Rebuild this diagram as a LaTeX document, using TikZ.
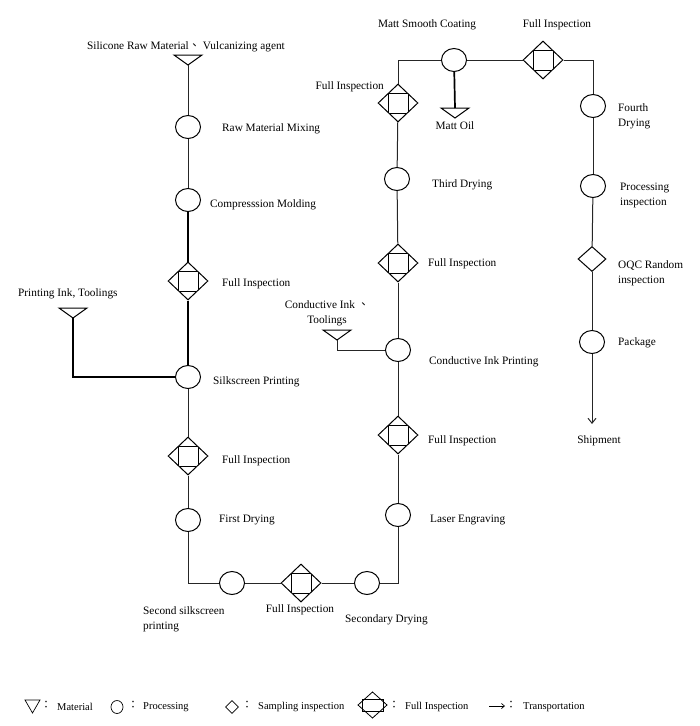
\documentclass[tikz,border=0pt]{standalone}
\usepackage{fontspec}
\setmainfont{Liberation Serif}
\newfontfamily\cjk{Noto Sans CJK TC}
\usetikzlibrary{shapes.geometric,arrows.meta}
\tikzset{
  x=1pt, y=-1pt,
  flow/.style={line width=1pt, draw=black!85},
  heavy/.style={line width=1.7pt, draw=black},
  proc/.style={ellipse, draw, line width=1pt, minimum width=25pt, minimum height=23pt, inner sep=0pt},
  fullinsp/.style={diamond, draw, line width=1pt, minimum width=40pt, minimum height=38pt, inner sep=0pt,
     path picture={\draw[line width=1pt] ([shift={(-10pt,-10pt)}]path picture bounding box.center) rectangle ([shift={(10pt,10pt)}]path picture bounding box.center);}},
  sampinsp/.style={diamond, draw, line width=1pt, minimum width=28pt, minimum height=25pt, inner sep=0pt},
  lbl/.style={font=\fontsize{11.3}{15}\selectfont, inner sep=0pt, yshift=-1.5pt},
  leg/.style={font=\fontsize{10.5}{12}\selectfont, inner sep=0pt},
}
\newcommand\mattri[1]{\draw[line width=1pt] (#1) -- ++(-14,-10) -- ++(28,0) -- cycle;}
\begin{document}
\begin{tikzpicture}
\useasboundingbox (0,0) rectangle (700,726);

% ---- left column
\coordinate (m1) at (188,65);
\mattri{m1}
\node[proc] (mix) at (188,127) {};
\node[proc] (mold) at (188,200) {};
\node[fullinsp] (fi1) at (188,281) {};
\node[proc] (silk) at (188,377) {};
\node[fullinsp] (fi2) at (188,456) {};
\node[proc] (dry1) at (188,520) {};
\coordinate (c1) at (188,583);
\coordinate (m2) at (73,318);
\mattri{m2}

% ---- bottom row
\node[proc] (silk2) at (232,583) {};
\node[fullinsp] (fi3) at (301,583) {};
\node[proc] (dry2) at (367,583) {};
\coordinate (c2) at (398,583);

% ---- middle column
\node[proc] (laser) at (398,515) {};
\node[fullinsp] (fi4) at (398,435) {};
\node[proc] (cond) at (398,350) {};
\coordinate (m3) at (337,340);
\mattri{m3}
\node[fullinsp] (fi5) at (398,263) {};
\node[proc] (dry3) at (397,179) {};
\node[fullinsp] (fi6) at (398,103) {};
\coordinate (c3) at (398,60);

% ---- top row
\node[proc] (matt) at (454,60) {};
\coordinate (m4top) at (455,108);
\coordinate (m4) at (455,118);
\mattri{m4}
\node[fullinsp] (fi7) at (543,60) {};
\coordinate (c4) at (593,60);

% ---- right column
\node[proc] (dry4) at (593,106) {};
\node[proc] (pinsp) at (593,186) {};
\node[sampinsp] (oqc) at (592,259) {};
\node[proc] (pkg) at (592,342) {};
\coordinate (ship) at (592,424);

% ---- connectors
\draw[flow] (m1) -- (mix);
\draw[flow] (mix) -- (mold);
\draw[heavy] (mold) -- (fi1);
\draw[heavy] (fi1) -- (silk);
\draw[heavy] (m2) |- (silk);
\draw[flow] (silk) -- (fi2);
\draw[flow] (fi2) -- (dry1);
\draw[flow] (dry1) -- (c1) -- (silk2);
\draw[flow] (silk2) -- (fi3);
\draw[flow] (fi3) -- (dry2);
\draw[flow] (dry2) -- (c2) -- (laser);
\draw[flow] (laser) -- (fi4);
\draw[flow] (fi4) -- (cond);
\draw[flow] (m3) |- (cond);
\draw[flow] (cond) -- (fi5);
\draw[flow] (fi5) -- (dry3);
\draw[flow] (dry3) -- (fi6);
\draw[flow] (fi6) -- (c3) -- (matt);
\draw[heavy] (matt) -- (m4top);
\draw[flow] (matt) -- (fi7);
\draw[flow] (fi7) -- (c4) -- (dry4);
\draw[flow] (dry4) -- (pinsp);
\draw[flow] (pinsp) -- (oqc);
\draw[flow] (oqc) -- (pkg);
\draw[flow, -{Straight Barb[length=5pt,width=8pt]}] (pkg) -- (ship);

% ---- labels
\node[lbl] (t1) at (186,45) {Silicone Raw Material{\cjk 、} Vulcanizing agent};
\node[lbl, anchor=west] (t2) at (222,127) {Raw Material Mixing};
\node[lbl, anchor=west] (t3) at (210,203) {Compresssion Molding};
\node[lbl, anchor=west] (t4) at (222,282) {Full Inspection};
\node[lbl, anchor=west] (t5) at (18,292) {Printing Ink, Toolings};
\node[lbl, anchor=west] (t6) at (213,380) {Silkscreen Printing};
\node[lbl, anchor=west] (t7) at (222,459) {Full Inspection};
\node[lbl, anchor=west] (t8) at (219,518) {First Drying};
\node[lbl, anchor=west, align=left] (t9) at (143,618) {Second silkscreen\\printing};
\node[lbl] (t10) at (300,608) {Full Inspection};
\node[lbl, anchor=west] (t11) at (345,618) {Secondary Drying};
\node[lbl, anchor=west] (t12) at (430,518) {Laser Engraving};
\node[lbl, anchor=west] (t13) at (428,439) {Full Inspection};
\node[lbl, anchor=west] (t14) at (429,360) {Conductive Ink Printing};
\node[lbl, align=center] (t15) at (327,312) {Conductive Ink {\cjk 、}\\Toolings};
\node[lbl, anchor=west] (t16) at (428,262) {Full Inspection};
\node[lbl, anchor=west] (t17) at (432,183) {Third Drying};
\node[lbl, anchor=east] (t18) at (384,85) {Full Inspection};
\node[lbl] (t19) at (427,23) {Matt Smooth Coating};
\node[lbl] (t20) at (455,124) {Matt Oil};
\node[lbl] (t21) at (557,23) {Full Inspection};
\node[lbl, anchor=west, align=left] (t22) at (618,115) {Fourth\\Drying};
\node[lbl, anchor=west, align=left] (t23) at (620,194) {Processing\\inspection};
\node[lbl, anchor=west, align=left] (t24) at (618,272) {OQC Random\\inspection};
\node[lbl, anchor=west] (t25) at (618,341) {Package};
\node[lbl] (t26) at (599,439) {Shipment};

% ---- legend
\draw[line width=0.7pt] (25,700) -- (40,700) -- (32.5,713) -- cycle;
\node[leg] (lc1) at (46,705) {\cjk ：};
\node[leg, anchor=west] (l1) at (57,707) {Material};
\node[ellipse, draw, line width=0.7pt, minimum width=12pt, minimum height=13pt, inner sep=0pt] (lp) at (117,707) {};
\node[leg] (lc2) at (133,705) {\cjk ：};
\node[leg, anchor=west] (l2) at (143,707) {Processing};
\node[diamond, draw, line width=0.7pt, minimum width=13pt, minimum height=13pt, inner sep=0pt] (ls) at (232,707) {};
\node[leg] (lc3) at (247,705) {\cjk ：};
\node[leg, anchor=west] (l3) at (258,707) {Sampling inspection};
\draw[line width=0.8pt] (358,705) -- (372.5,692) -- (387,705) -- (372.5,718) -- cycle;
\draw[line width=0.8pt] (362,699) rectangle (383,711);
\node[leg] (lc4) at (394,705) {\cjk ：};
\node[leg, anchor=west] (l4) at (405,707) {Full Inspection};
\draw[line width=0.7pt, -{Straight Barb[length=3pt,width=5pt]}] (489,706) -- (505,706);
\node[leg] (lc5) at (511,705) {\cjk ：};
\node[leg, anchor=west] (l5) at (523,707) {Transportation};
\end{tikzpicture}
\end{document}
